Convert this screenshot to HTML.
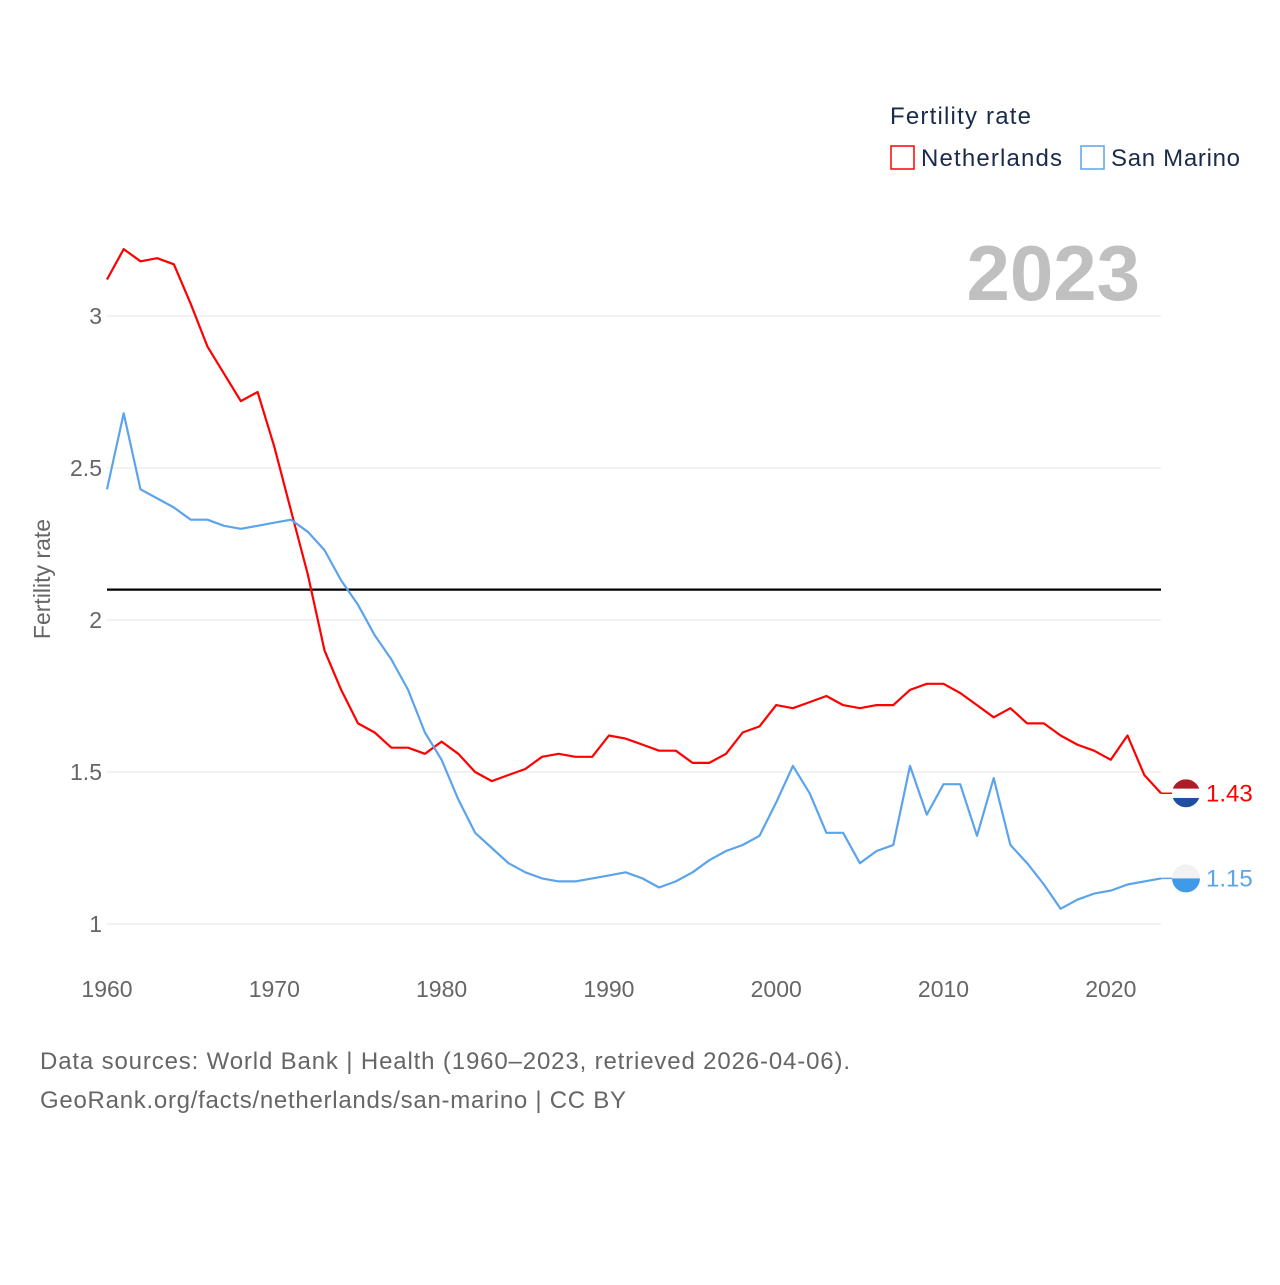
<!DOCTYPE html>
<html><head><meta charset="utf-8"><style>
html,body{margin:0;padding:0;background:#fff;}
body{width:1280px;height:1280px;overflow:hidden;font-family:"Liberation Sans",sans-serif;}
</style></head><body>
<svg id="chart" width="1280" height="1280" xmlns="http://www.w3.org/2000/svg" font-family="Liberation Sans, sans-serif">
  <g id="grid"></g>
  <g id="ticks"></g>
  <g id="xticks"></g>
  <text x="50" y="579" font-size="23" fill="#666" text-anchor="middle" transform="rotate(-90 50 579)">Fertility rate</text>
  <text x="1140" y="300" font-size="78" font-weight="bold" fill="#c0c0c0" text-anchor="end">2023</text>
  <g>
    <text x="890" y="124" font-size="24" fill="#1a2a4a" textLength="141">Fertility rate</text>
    <rect x="891" y="146" width="23" height="23" fill="none" stroke="#ff0000" stroke-width="1.5"/>
    <text x="921" y="166" font-size="24" fill="#1a2a4a" textLength="141">Netherlands</text>
    <rect x="1081" y="146" width="23" height="23" fill="none" stroke="#5ba4ec" stroke-width="1.5"/>
    <text x="1111" y="166" font-size="24" fill="#1a2a4a" textLength="129">San Marino</text>
  </g>
  <line id="refline" stroke="#000" stroke-width="2.2"/>
  <g id="series"></g>
  <text x="40" y="1069" font-size="24" fill="#666" textLength="810">Data sources: World Bank | Health (1960–2023, retrieved 2026-04-06).</text>
  <text x="40" y="1108" font-size="24" fill="#666" textLength="586">GeoRank.org/facts/netherlands/san-marino | CC BY</text>
</svg>
<script>
const years = Array.from({length:64},(_,i)=>1960+i);
const netherlands = [3.12,3.22,3.18,3.19,3.17,3.04,2.90,2.81,2.72,2.75,2.57,2.36,2.15,1.90,1.77,1.66,1.63,1.58,1.58,1.56,1.60,1.56,1.50,1.47,1.49,1.51,1.55,1.56,1.55,1.55,1.62,1.61,1.59,1.57,1.57,1.53,1.53,1.56,1.63,1.65,1.72,1.71,1.73,1.75,1.72,1.71,1.72,1.72,1.77,1.79,1.79,1.76,1.72,1.68,1.71,1.66,1.66,1.62,1.59,1.57,1.54,1.62,1.49,1.43];
const sanMarino = [2.43,2.68,2.43,2.40,2.37,2.33,2.33,2.31,2.30,2.31,2.32,2.33,2.29,2.23,2.13,2.05,1.95,1.87,1.77,1.63,1.54,1.41,1.30,1.25,1.20,1.17,1.15,1.14,1.14,1.15,1.16,1.17,1.15,1.12,1.14,1.17,1.21,1.24,1.26,1.29,1.40,1.52,1.43,1.30,1.30,1.20,1.24,1.26,1.52,1.36,1.46,1.46,1.29,1.48,1.26,1.20,1.13,1.05,1.08,1.10,1.11,1.13,1.14,1.15];
const yTicks = [1,1.5,2,2.5,3];
const yTickLabels = ["1","1.5","2","2.5","3"];
const xTicks = [1960,1970,1980,1990,2000,2010,2020];
const refValue = 2.1;

const X = y => 107 + (y-1960)*(1161-107)/63;
const Y = v => 924 - (v-1)*304;
const NS="http://www.w3.org/2000/svg";
function mk(tag, attrs, parent){const e=document.createElementNS(NS,tag);for(const k in attrs)e.setAttribute(k,attrs[k]);parent.appendChild(e);return e;}
const grid=document.getElementById('grid'), ticks=document.getElementById('ticks'), xt=document.getElementById('xticks'), ser=document.getElementById('series');
yTicks.forEach((v,i)=>{
  const l=mk('line',{x1:107,x2:1161,y1:Y(v),y2:Y(v),stroke:'#e6e6e6','stroke-width':1},grid);
  
  
  const t=mk('text',{x:102,y:Y(v)+8,'font-size':23,fill:'#666','text-anchor':'end'},ticks);
  t.textContent=yTickLabels[i];
  
  
});
xTicks.forEach(y=>{
  const t=mk('text',{x:X(y),y:997,'font-size':23,fill:'#666','text-anchor':'middle'},xt);
  t.textContent=y;
  
  
});
const rl=document.getElementById('refline');
rl.setAttribute('x1',107);rl.setAttribute('x2',1161);rl.setAttribute('y1',Y(refValue));rl.setAttribute('y2',Y(refValue));
function drawSeries(vals,color,name,flag){
  const d=vals.map((v,i)=>(i?'L':'M')+X(years[i]).toFixed(1)+' '+Y(v).toFixed(1)).join(' ');
  const p=mk('path',{d:d,fill:'none',stroke:color,'stroke-width':2.2,'stroke-linejoin':'round'},ser);
  
  
  const last=vals[vals.length-1], lx=X(years[years.length-1]), ly=Y(last);
  mk('line',{x1:lx,x2:lx+12,y1:ly,y2:ly,stroke:color,'stroke-width':1.5},ser);
  const g=mk('g',{},ser);
  
  
  const cx=lx+25, r=14;
  mk('clipPath',{id:'c'+name},g).appendChild(document.createElementNS(NS,'circle'));
  const cc=g.querySelector('clipPath circle');cc.setAttribute('cx',cx);cc.setAttribute('cy',ly);cc.setAttribute('r',r);
  flag.forEach((c,i)=>mk('rect',{x:cx-r,y:ly-r+i*2*r/flag.length,width:2*r,height:2*r/flag.length+0.5,fill:c,'clip-path':'url(#c'+name+')'},g));
  const t=mk('text',{x:cx+r+6,y:ly+8,'font-size':24,fill:color},ser);
  t.textContent=last.toFixed(2);
  
  
}
drawSeries(netherlands,'#ff0000','netherlands',['#ae1c28','#ffffff','#1f4fa0']);
drawSeries(sanMarino,'#5ba4ec','san-marino',['#f2f2f2','#3f9be8']);
</script>
</body></html>
